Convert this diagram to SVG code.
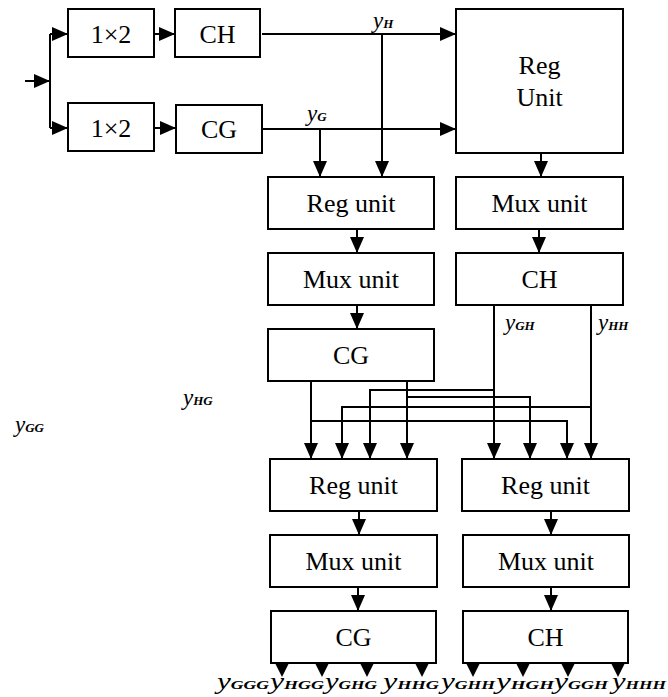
<svg xmlns="http://www.w3.org/2000/svg" width="668" height="697" viewBox="0 0 668 697">
<defs>
<style>
.box{fill:#fff;stroke:#000;stroke-width:2}
.t{font-family:'Liberation Serif','Times New Roman','DejaVu Serif',serif;font-size:26px;text-anchor:middle;fill:#000}
.w{fill:none;stroke:#000;stroke-width:2}
.lab{font-family:'Liberation Serif','Times New Roman','DejaVu Serif',serif;font-style:italic;fill:#000}
.ly{font-size:23px}
.ls{font-size:13px;font-weight:bold}
.tri{fill:#000}
</style>
<marker id="ah" markerUnits="userSpaceOnUse" markerWidth="16" markerHeight="14" refX="16" refY="7" orient="auto" viewBox="0 0 16 14">
<path d="M0,0 L16,7 L0,14 z" fill="#000"/>
</marker>
</defs>
<rect width="668" height="697" fill="#fff"/>
<g id="connectors" class="w" marker-end="url(#ah)">
<path d="M25,81 H50"/>
<path d="M50,34 V128" marker-end="none"/>
<path d="M50,34 H68"/>
<path d="M50,128 H68"/>
<path d="M154,34 H175"/>
<path d="M154,128 H176"/>
<path d="M262,34 H456"/>
<path d="M262,129 H456"/>
<path d="M382,34 V177"/>
<path d="M320,129 V177"/>
<path d="M541,153 V177"/>
<path d="M357,229 V253"/>
<path d="M539,229 V253"/>
<path d="M357,305 V329"/>
<path d="M311,381 V459"/>
<path d="M407,381 V459"/>
<path d="M494,305 V459"/>
<path d="M591,305 V459"/>
<path d="M494,390 H370 V459"/>
<path d="M407,397 H530 V459"/>
<path d="M591,407 H342 V459"/>
<path d="M311,421 H567 V459"/>
<path d="M359,511 V535"/>
<path d="M551,511 V535"/>
<path d="M358,587 V611"/>
<path d="M551,587 V611"/>
</g>
<g id="outputs" class="tri">
<path d="M275,663 L289,663 L282,677 z"/>
<path d="M315,663 L329,663 L322,677 z"/>
<path d="M360,663 L374,663 L367,677 z"/>
<path d="M415,663 L429,663 L422,677 z"/>
<path d="M466,663 L480,663 L473,677 z"/>
<path d="M516,663 L530,663 L523,677 z"/>
<path d="M561,663 L575,663 L568,677 z"/>
<path d="M611,663 L625,663 L618,677 z"/>
</g>
<g id="split1"><rect class="box" x="68" y="9" width="86" height="48"/><text class="t" font-family="Liberation Serif, serif" x="111" y="43">1×2</text></g>
<g id="ch1"><rect class="box" x="175" y="9" width="85" height="48"/><text class="t" x="217.5" y="43">CH</text></g>
<g id="split2"><rect class="box" x="68" y="103" width="86" height="48"/><text class="t" x="111" y="137">1×2</text></g>
<g id="cg1"><rect class="box" x="176" y="105" width="86" height="48"/><text class="t" x="219" y="138">CG</text></g>
<g id="regUnitTop"><rect class="box" x="456" y="9" width="167" height="144"/><text class="t" x="539.5" y="74">Reg</text><text class="t" x="539.5" y="106">Unit</text></g>
<g id="regL1"><rect class="box" x="268" y="177" width="166" height="52"/><text class="t" x="351" y="212">Reg unit</text></g>
<g id="muxL1"><rect class="box" x="268" y="253" width="166" height="52"/><text class="t" x="351" y="288">Mux unit</text></g>
<g id="cgL1"><rect class="box" x="268" y="329" width="166" height="52"/><text class="t" x="351" y="364">CG</text></g>
<g id="muxR1"><rect class="box" x="456" y="177" width="167" height="52"/><text class="t" x="539.5" y="212">Mux unit</text></g>
<g id="chR1"><rect class="box" x="456" y="253" width="167" height="52"/><text class="t" x="539.5" y="288">CH</text></g>
<g id="regL2"><rect class="box" x="270" y="459" width="167" height="52"/><text class="t" x="353.5" y="494">Reg unit</text></g>
<g id="regR2"><rect class="box" x="462" y="459" width="167" height="52"/><text class="t" x="545.5" y="494">Reg unit</text></g>
<g id="muxL2"><rect class="box" x="270" y="535" width="167" height="52"/><text class="t" x="353.5" y="570">Mux unit</text></g>
<g id="muxR2"><rect class="box" x="463" y="535" width="166" height="52"/><text class="t" x="546" y="570">Mux unit</text></g>
<g id="cgL2"><rect class="box" x="271" y="611" width="165" height="52"/><text class="t" x="353.5" y="646">CG</text></g>
<g id="chR2"><rect class="box" x="463" y="611" width="165" height="52"/><text class="t" x="545.5" y="646">CH</text></g>
<g id="labels" class="lab">
<text x="373" y="28"><tspan class="ly">y</tspan><tspan class="ls">H</tspan></text>
<text x="307" y="121"><tspan class="ly">y</tspan><tspan class="ls">G</tspan></text>
<text x="505" y="330"><tspan class="ly">y</tspan><tspan class="ls">GH</tspan></text>
<text x="598" y="330"><tspan class="ly">y</tspan><tspan class="ls">HH</tspan></text>
<text x="183" y="405"><tspan class="ly">y</tspan><tspan class="ls">HG</tspan></text>
<text x="15" y="432"><tspan class="ly">y</tspan><tspan class="ls">GG</tspan></text>
<text x="217" y="689" textLength="52" lengthAdjust="spacingAndGlyphs"><tspan class="ly">y</tspan><tspan class="ls">GGG</tspan></text>
<text x="270" y="689" textLength="54" lengthAdjust="spacingAndGlyphs"><tspan class="ly">y</tspan><tspan class="ls">HGG</tspan></text>
<text x="325" y="689" textLength="52" lengthAdjust="spacingAndGlyphs"><tspan class="ly">y</tspan><tspan class="ls">GHG</tspan></text>
<text x="383" y="689" textLength="56" lengthAdjust="spacingAndGlyphs"><tspan class="ly">y</tspan><tspan class="ls">HHG</tspan></text>
<text x="441" y="689" textLength="54" lengthAdjust="spacingAndGlyphs"><tspan class="ly">y</tspan><tspan class="ls">GHH</tspan></text>
<text x="496" y="689" textLength="58" lengthAdjust="spacingAndGlyphs"><tspan class="ly">y</tspan><tspan class="ls">HGH</tspan></text>
<text x="554" y="689" textLength="54" lengthAdjust="spacingAndGlyphs"><tspan class="ly">y</tspan><tspan class="ls">GGH</tspan></text>
<text x="612" y="689" textLength="54" lengthAdjust="spacingAndGlyphs"><tspan class="ly">y</tspan><tspan class="ls">HHH</tspan></text>
</g>
</svg>
